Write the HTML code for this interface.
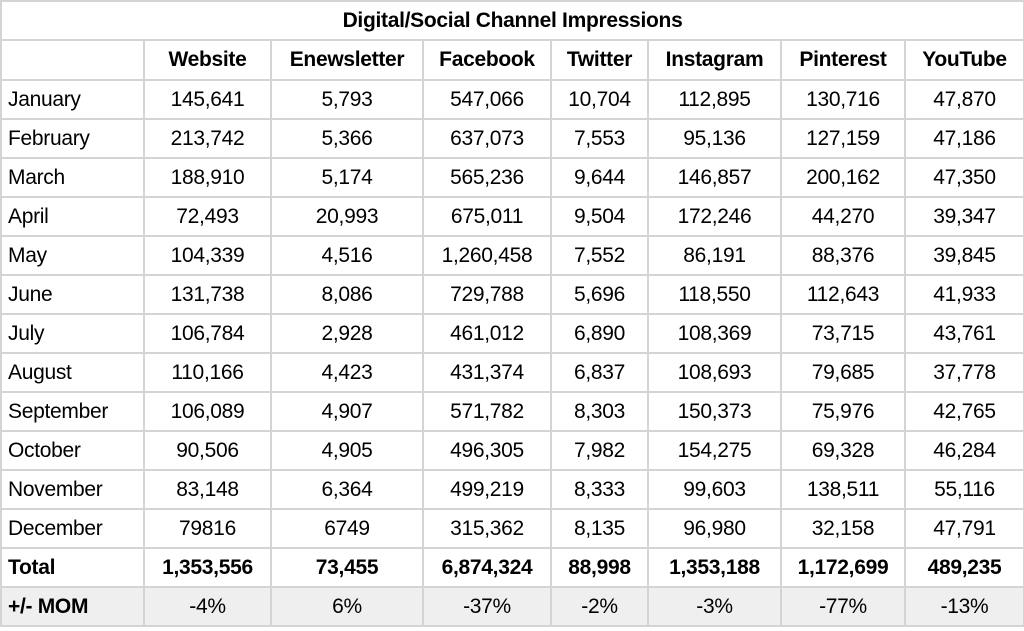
<!DOCTYPE html>
<html><head><style>
body{margin:0;background:#fff;width:1024px;height:631px;overflow:hidden;font-family:"Liberation Sans",sans-serif;color:#000}
table{position:absolute;left:0;top:0;border-collapse:collapse;table-layout:fixed;width:1023px}
td{border:2px solid #d4d4d4;height:37px;padding:0;font-size:21px;text-align:center;white-space:nowrap;letter-spacing:-0.3px}
td:first-child{text-align:left;padding-left:6px}
tr.t td{height:37px;font-weight:bold;text-align:center;padding:0}
tr.h td{font-weight:bold;height:38px}
tr.b td{font-weight:bold}
tr.m td{background:#efefef}
</style></head><body>
<table>
<colgroup><col style="width:143px"><col style="width:127px"><col style="width:152px"><col style="width:128px"><col style="width:97px"><col style="width:133px"><col style="width:124px"><col style="width:119px"></colgroup>
<tr class="t"><td colspan="8" style="text-align:center;padding:0">Digital/Social Channel Impressions</td></tr>
<tr class="h"><td></td><td>Website</td><td>Enewsletter</td><td>Facebook</td><td>Twitter</td><td>Instagram</td><td>Pinterest</td><td>YouTube</td></tr>
<tr><td>January</td><td>145,641</td><td>5,793</td><td>547,066</td><td>10,704</td><td>112,895</td><td>130,716</td><td>47,870</td></tr>
<tr><td>February</td><td>213,742</td><td>5,366</td><td>637,073</td><td>7,553</td><td>95,136</td><td>127,159</td><td>47,186</td></tr>
<tr><td>March</td><td>188,910</td><td>5,174</td><td>565,236</td><td>9,644</td><td>146,857</td><td>200,162</td><td>47,350</td></tr>
<tr><td>April</td><td>72,493</td><td>20,993</td><td>675,011</td><td>9,504</td><td>172,246</td><td>44,270</td><td>39,347</td></tr>
<tr><td>May</td><td>104,339</td><td>4,516</td><td>1,260,458</td><td>7,552</td><td>86,191</td><td>88,376</td><td>39,845</td></tr>
<tr><td>June</td><td>131,738</td><td>8,086</td><td>729,788</td><td>5,696</td><td>118,550</td><td>112,643</td><td>41,933</td></tr>
<tr><td>July</td><td>106,784</td><td>2,928</td><td>461,012</td><td>6,890</td><td>108,369</td><td>73,715</td><td>43,761</td></tr>
<tr><td>August</td><td>110,166</td><td>4,423</td><td>431,374</td><td>6,837</td><td>108,693</td><td>79,685</td><td>37,778</td></tr>
<tr><td>September</td><td>106,089</td><td>4,907</td><td>571,782</td><td>8,303</td><td>150,373</td><td>75,976</td><td>42,765</td></tr>
<tr><td>October</td><td>90,506</td><td>4,905</td><td>496,305</td><td>7,982</td><td>154,275</td><td>69,328</td><td>46,284</td></tr>
<tr><td>November</td><td>83,148</td><td>6,364</td><td>499,219</td><td>8,333</td><td>99,603</td><td>138,511</td><td>55,116</td></tr>
<tr><td>December</td><td>79816</td><td>6749</td><td>315,362</td><td>8,135</td><td>96,980</td><td>32,158</td><td>47,791</td></tr>
<tr class="b"><td>Total</td><td>1,353,556</td><td>73,455</td><td>6,874,324</td><td>88,998</td><td>1,353,188</td><td>1,172,699</td><td>489,235</td></tr>
<tr class="m"><td style="font-weight:bold">+/- MOM</td><td>-4%</td><td>6%</td><td>-37%</td><td>-2%</td><td>-3%</td><td>-77%</td><td>-13%</td></tr>
</table>
</body></html>
